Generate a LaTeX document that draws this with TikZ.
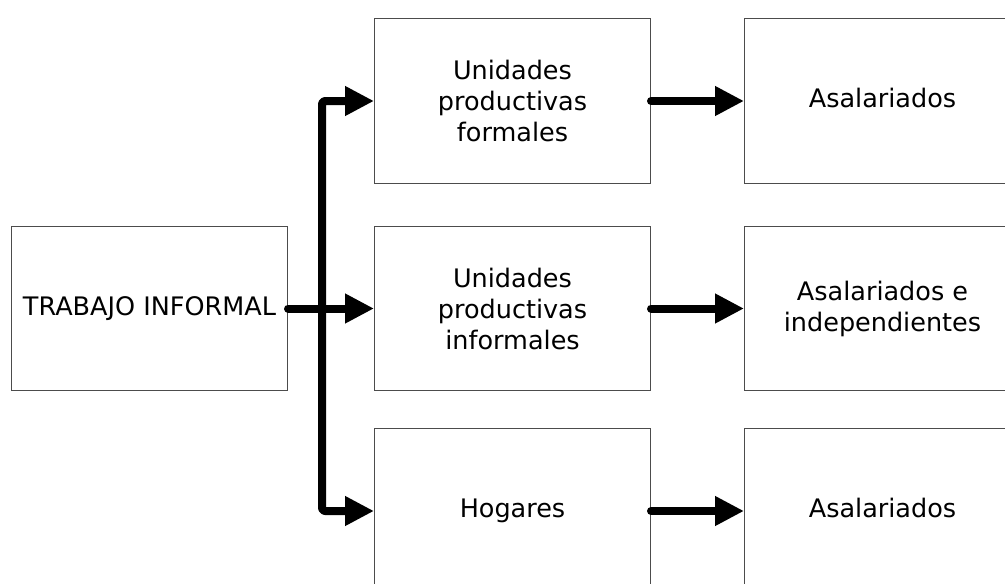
\documentclass[tikz,border=0pt]{standalone}
\usepackage{fontspec}
\setmainfont{DejaVu Sans}
\usetikzlibrary{arrows.meta}
\begin{document}
\begin{tikzpicture}[x=1pt,y=-1pt,
  box/.style={draw=black!70, line width=1pt, rectangle, minimum width=276pt,
    minimum height=165pt, inner sep=0pt, anchor=north west, align=center,
    font=\fontsize{25.5}{31}\selectfont},
  single/.style={text height=19pt, text depth=6pt},
  conn/.style={line width=8pt, line cap=round, line join=round, rounded corners=3pt,
    -{Triangle[length=29pt,width=28pt]}}]
\useasboundingbox (0,0) rectangle (1005,584);
\clip (0,0) rectangle (1005,584);
\node[box, single, minimum height=164pt] (trab) at (11,226) {TRABAJO INFORMAL};
\node[box] (mid1) at (374,18) {Unidades\\productivas\\formales};
\node[box, minimum height=164pt] (mid2) at (374,226) {Unidades\\productivas\\informales};
\node[box, single] (mid3) at (374,428) {Hogares};
\node[box, single] (r1) at (744,18) {Asalariados};
\node[box, minimum height=164pt] (r2) at (744,226) {Asalariados e\\independientes};
\node[box, single] (r3) at (744,428) {Asalariados};
\coordinate (bus) at (322,308);
\draw[conn] (trab.east) -- (mid2.west);
\draw[conn] (bus) |- (mid1.west);
\draw[conn] (bus) |- (mid3.west);
\draw[conn] (mid1.east) -- (r1.west);
\draw[conn] (mid2.east) -- (r2.west);
\draw[conn] (mid3.east) -- (r3.west);
\end{tikzpicture}
\end{document}
